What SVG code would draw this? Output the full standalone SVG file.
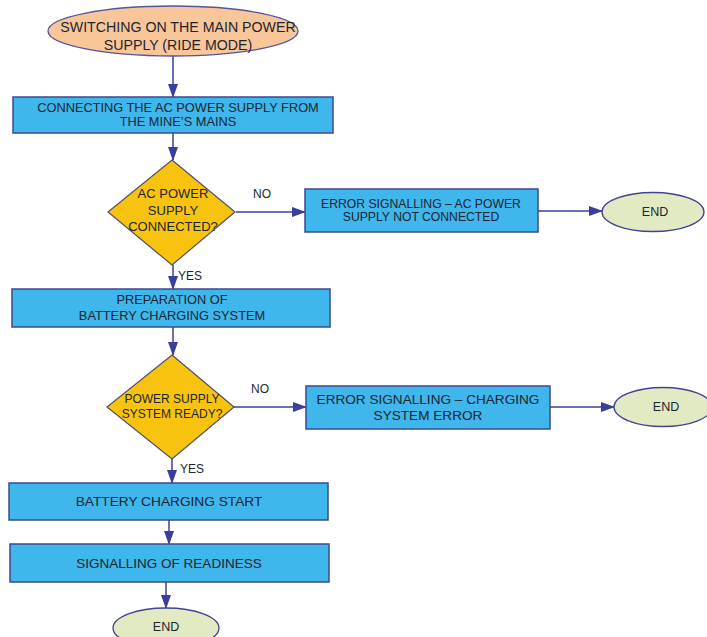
<svg xmlns="http://www.w3.org/2000/svg" width="707" height="637" viewBox="0 0 707 637">
<defs>
<marker id="ah" markerWidth="14" markerHeight="10" refX="13" refY="5" orient="auto" markerUnits="userSpaceOnUse">
<path d="M0,0 L14,5 L0,10 Z" fill="#3a3f9e"/>
</marker>
<style>
.box{fill:#3fb6ec;stroke:#3d4a8c;stroke-width:1.5}
.dia{fill:#f7c30f;stroke:#4f4f6a;stroke-width:1.2}
.start{fill:#f9c69a;stroke:#52559a;stroke-width:1.3}
.end{fill:#e2eac3;stroke:#3f4390;stroke-width:1.3}
.t{font-family:"Liberation Sans",Arial,sans-serif;font-size:12.5px;fill:#1c2530;text-anchor:middle}
.lbl{font-family:"Liberation Sans",Arial,sans-serif;font-size:12px;fill:#1c2530}
.c{stroke:#3a3f9e;stroke-width:1.5;fill:none;marker-end:url(#ah)}
</style>
</defs>
<rect width="707" height="637" fill="#ffffff"/>
<g id="connectors">
<line class="c" x1="173" y1="56" x2="173" y2="97"/>
<line class="c" x1="173" y1="133" x2="173" y2="160"/>
<line class="c" x1="236" y1="212" x2="305" y2="212"/>
<line class="c" x1="538" y1="211" x2="602" y2="211"/>
<line class="c" x1="173" y1="265" x2="173" y2="289"/>
<line class="c" x1="173" y1="327" x2="173" y2="355"/>
<line class="c" x1="234" y1="407" x2="306" y2="407"/>
<line class="c" x1="550" y1="407" x2="614" y2="407"/>
<line class="c" x1="172" y1="459" x2="172" y2="483"/>
<line class="c" x1="169" y1="520" x2="169" y2="544"/>
<line class="c" x1="166" y1="582" x2="166" y2="608"/>
<text class="lbl" x="253" y="198">NO</text>
<text class="lbl" x="178" y="280">YES</text>
<text class="lbl" x="251" y="393">NO</text>
<text class="lbl" x="180" y="473">YES</text>
</g>
<g id="start">
<ellipse class="start" cx="173" cy="31" rx="125" ry="25"/>
<text class="t" x="178" y="32" style="font-size:14.2px">SWITCHING ON THE MAIN POWER</text>
<text class="t" x="178" y="50" style="font-size:14.2px">SUPPLY (RIDE MODE)</text>
</g>
<g id="connect-ac">
<rect class="box" x="13" y="97" width="320" height="36"/>
<text class="t" x="178" y="112" style="font-size:12.8px">CONNECTING THE AC POWER SUPPLY FROM</text>
<text class="t" x="178" y="126" style="font-size:12.8px">THE MINE’S MAINS</text>
</g>
<g id="ac-connected">
<polygon class="dia" points="172,160 235,212 172,265 108,212"/>
<text class="t" x="173" y="198" style="font-size:13px">AC POWER</text>
<text class="t" x="173" y="215" style="font-size:13px">SUPPLY</text>
<text class="t" x="173" y="231" style="font-size:13px">CONNECTED?</text>
</g>
<g id="error-ac">
<rect class="box" x="305" y="189" width="233" height="43"/>
<text class="t" x="421" y="208" style="font-size:12.2px">ERROR SIGNALLING – AC POWER</text>
<text class="t" x="421" y="221" style="font-size:12.2px">SUPPLY NOT CONNECTED</text>
</g>
<g id="end1">
<ellipse class="end" cx="653" cy="212" rx="51" ry="19.5"/>
<text class="t" x="655" y="216">END</text>
</g>
<g id="prep">
<rect class="box" x="12" y="289" width="318" height="38"/>
<text class="t" x="172" y="304" style="font-size:12.8px">PREPARATION OF</text>
<text class="t" x="172" y="320" style="font-size:12.8px">BATTERY CHARGING SYSTEM</text>
</g>
<g id="ps-ready">
<polygon class="dia" points="172,355 234,407 172,459 107,407"/>
<text class="t" x="172" y="403" style="font-size:12px">POWER SUPPLY</text>
<text class="t" x="172" y="418" style="font-size:12px">SYSTEM READY?</text>
</g>
<g id="error-charging">
<rect class="box" x="306" y="386" width="244" height="43"/>
<text class="t" x="428" y="404" style="font-size:13.6px">ERROR SIGNALLING – CHARGING</text>
<text class="t" x="428" y="420" style="font-size:13.6px">SYSTEM ERROR</text>
</g>
<g id="end2">
<ellipse class="end" cx="663" cy="407" rx="49" ry="19.5"/>
<text class="t" x="666" y="411">END</text>
</g>
<g id="charging-start">
<rect class="box" x="9" y="483" width="319" height="37"/>
<text class="t" x="169" y="506" style="font-size:13.7px">BATTERY CHARGING START</text>
</g>
<g id="readiness">
<rect class="box" x="10" y="544" width="319" height="38"/>
<text class="t" x="169" y="568" style="font-size:13.5px">SIGNALLING OF READINESS</text>
</g>
<g id="end3">
<ellipse class="end" cx="166" cy="628" rx="53" ry="20"/>
<text class="t" x="166" y="631">END</text>
</g>
</svg>
